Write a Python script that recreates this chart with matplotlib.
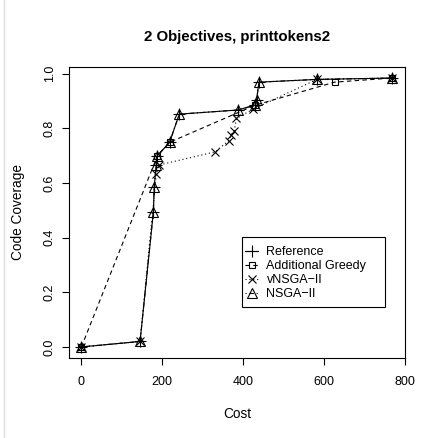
import numpy as np
import matplotlib
matplotlib.use("Agg")
import matplotlib.pyplot as plt
from matplotlib.lines import Line2D
from matplotlib.patches import Rectangle

plt.rcParams['font.family'] = ['Liberation Sans', 'DejaVu Sans']

# data (cost, code coverage)
ref_cost = [0, 145, 178, 180, 185, 188, 218, 242, 386, 430, 433, 439, 582, 767]
ref_cov = [0.0, 0.02, 0.495, 0.587, 0.666, 0.70, 0.749, 0.852, 0.867, 0.885, 0.905, 0.969, 0.979, 0.984]

greedy_cost = [0, 188, 218, 430, 626, 767]
greedy_cov = [0.0, 0.70, 0.749, 0.885, 0.969, 0.984]

vnsga_cost = [0, 145, 185, 192, 331, 364, 370, 378, 383, 424, 582, 767]
vnsga_cov = [0.0, 0.02, 0.632, 0.666, 0.714, 0.755, 0.775, 0.790, 0.836, 0.870, 0.979, 0.984]

nsga_cost = [0, 145, 178, 180, 185, 188, 218, 242, 386, 430, 433, 439, 582, 767]
nsga_cov = [0.0, 0.02, 0.495, 0.587, 0.666, 0.70, 0.749, 0.852, 0.867, 0.885, 0.905, 0.969, 0.979, 0.984]

labels = ["Reference", "Additional Greedy", "vNSGA\u2212II", "NSGA\u2212II"]

W, H = 436, 438
fig = plt.figure(figsize=(W / 100, H / 100), dpi=100)
ax = fig.add_axes([69 / W, 1 - 357.7 / H, 336 / W, 290.4 / H])

lw = 0.8
ax.plot(ref_cost, ref_cov, color='k', lw=lw, ls='-', marker='+', ms=8, mew=lw, label=labels[0])
ax.plot(greedy_cost, greedy_cov, color='k', lw=lw, ls=(0, (4, 3)), marker='s', ms=5, mfc='none', mew=lw, label=labels[1])
ax.plot(vnsga_cost, vnsga_cov, color='k', lw=lw, ls=(0, (1, 2.5)), marker='x', ms=6, mew=lw, label=labels[2])
ax.plot(nsga_cost, nsga_cov, color='k', lw=lw, ls=(0, (1, 2.5, 4, 2.5)), marker='^', ms=7, mfc='none', mew=lw, label=labels[3])

# R style 4% padding
xr = max(ref_cost + greedy_cost)
yr = max(ref_cov + greedy_cov)
ax.set_xlim(-0.04 * xr, xr * 1.04)
ax.set_ylim(-0.04 * yr, yr * 1.04)
ax.set_xticks([0, 200, 400, 600, 800])
ax.set_yticks([0.0, 0.2, 0.4, 0.6, 0.8, 1.0])
ax.set_yticklabels(["0.0", "0.2", "0.4", "0.6", "0.8", "1.0"], rotation=90, va='center')
ax.tick_params(direction='out', length=5, width=0.8, labelsize=9, color='k')
ax.tick_params(axis='x', pad=8.5)
ax.tick_params(axis='y', pad=4.5)
for s in ax.spines.values():
    s.set_linewidth(0.8)

ax.set_xlabel("Cost", fontsize=9.8, labelpad=13.5)
ax.set_ylabel("Code Coverage", fontsize=9.8, labelpad=13.5)
fig.text(237 / W, 1 - 41 / H, "2 Objectives, printtokens2",
         ha='center', va='baseline', fontsize=10.8, fontweight='bold')

# legend box drawn by hand, entries placed inside it
ax.add_patch(Rectangle((0.516, 0.1736), 0.424, 0.241, transform=ax.transAxes,
                       fill=True, facecolor='white', edgecolor='k', lw=0.8, zorder=4))
leg = ax.legend(loc='upper left', bbox_to_anchor=(0.5238, 0.3833), fontsize=9,
                frameon=False, handlelength=1.05, handletextpad=0.67,
                labelspacing=0.15, borderpad=0, borderaxespad=0)
leg.set_zorder(5)

# faint page border on the left
fig.add_artist(Line2D([3.5 / W, 3.5 / W], [0, 1], color='#e0e0e0', lw=1))

fig.savefig("out.png", dpi=100)
